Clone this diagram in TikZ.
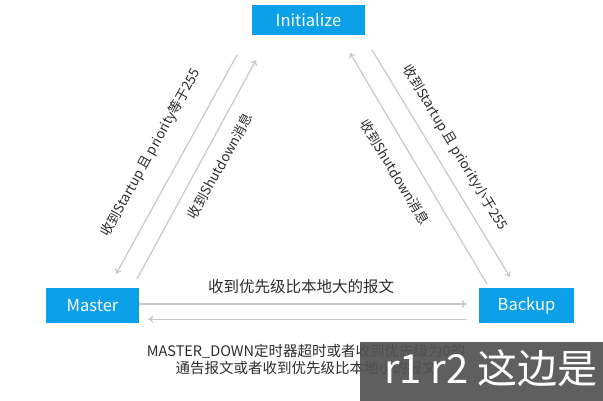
\documentclass[tikz,border=0pt]{standalone}
\usepackage{fontspec}
\newfontfamily\cjk{Noto Sans CJK SC}
\usetikzlibrary{arrows.meta}
\definecolor{boxblue}{RGB}{12,160,232}
\definecolor{linkgray}{RGB}{200,200,200}
\definecolor{txtgray}{RGB}{45,45,45}
\tikzset{
    state/.style={fill=boxblue, text=white, inner sep=0pt,
        font=\cjk\fontsize{16.5}{19}\selectfont},
    link/.style={draw=linkgray, line width=1.2pt, -{To[length=5pt,width=7pt]}},
    lbl/.style={text=txtgray, inner sep=0pt, font=\cjk\fontsize{13.5}{15}\selectfont},
}
\begin{document}
\begin{tikzpicture}[x=1pt, y=-1pt]
    % --- 1. 画布 (按像素坐标, y 向下) ---
    \fill[white] (0,0) rectangle (603,401);
    \useasboundingbox (0,0) rectangle (603,401);

    % --- 2. 三个状态 ---
    \node[state, minimum width=113pt, minimum height=30pt] (init) at (308.5,20) {Initialize};
    \node[state, minimum width=93pt, minimum height=35pt] (master) at (92.5,305.5) {Master};
    \node[state, minimum width=95pt, minimum height=35pt] (backup) at (526.5,305.5) {Backup};

    % --- 3. 箭头端点 ---
    \coordinate (lo1) at (237,55);  \coordinate (lo2) at (116,274); % 左外
    \coordinate (li1) at (137,279); \coordinate (li2) at (256,60);  % 左内
    \coordinate (ri1) at (487,284); \coordinate (ri2) at (350,53);  % 右内
    \coordinate (ro1) at (372,50);  \coordinate (ro2) at (510,277); % 右外

    % 左边一对: Initialize <-> Master
    \draw[link] (lo1) -- (lo2);
    \draw[link] (li1) -- (li2);
    % 右边一对: Initialize <-> Backup
    \draw[link] (ri1) -- (ri2);
    \draw[link] (ro1) -- (ro2);
    % 下边一对: Master <-> Backup
    \draw[link] ([yshift=1.5pt]master.east) -- ([yshift=1.5pt, xshift=-12pt]backup.west);
    \draw[link] ([yshift=4pt, xshift=-12pt]backup.south west) -- ([yshift=4pt, xshift=9pt]master.south east);

    % --- 4. 标注 ---
    \node[lbl, rotate=61] (l1) at (151,153) {收到Startup 且 priority等于255};
    \node[lbl, rotate=61] (l2) at (220,166) {收到Shutdown消息};
    \node[lbl, rotate=-59] (l3) at (455,148) {收到Startup 且 priority小于255};
    \node[lbl, rotate=-59] (l4) at (395,172) {收到Shutdown消息};
    \node[lbl, font=\cjk\fontsize{15.5}{17}\selectfont] (l5) at (301,287) {收到优先级比本地大的报文};
    \node[lbl, align=center, font=\cjk\fontsize{14.5}{17}\selectfont] (l6) at (306,360)
        {MASTER\_DOWN定时器超时或者收到优先级为0的\\通告报文或者收到优先级比本地小的报文};

    % --- 5. 字幕条 (截图里压在上面的) ---
    \fill[black!68, opacity=0.92] (360,342) rectangle (603,401);
    \node[text=white, anchor=west, inner sep=0pt, font=\cjk\fontsize{40}{44}\selectfont] (sub) at (384,368) {r1 r2 这边是};

\end{tikzpicture}
\end{document}
